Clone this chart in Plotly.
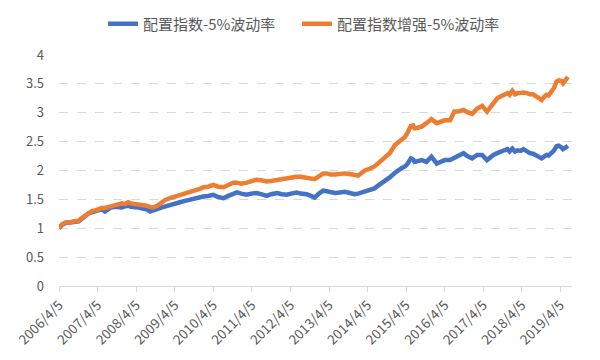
import plotly.graph_objects as go

dates = ["2006-04-05","2006-05-05","2006-06-05","2006-07-20","2006-09-01","2006-10-07","2006-11-10","2006-12-10",
"2007-01-10","2007-02-15","2007-03-15","2007-04-10","2007-05-15","2007-06-15","2007-07-15","2007-08-10","2007-09-20",
"2007-10-15","2007-11-20","2007-12-20","2008-01-20","2008-02-15","2008-03-25","2008-04-25","2008-06-01","2008-07-10",
"2008-08-15","2008-09-15","2008-10-20","2008-12-05","2009-01-05","2009-02-20","2009-04-10","2009-05-25","2009-07-01",
"2009-08-10","2009-09-15","2009-10-20","2009-11-30","2010-01-01","2010-02-15","2010-04-05","2010-05-20","2010-07-10",
"2010-08-25","2010-10-10","2010-11-15","2010-12-25","2011-02-15","2011-03-30","2011-05-20","2011-07-01","2011-08-25",
"2011-10-05","2011-11-30","2012-01-15","2012-03-01","2012-04-10","2012-06-01","2012-07-10","2012-09-05","2012-10-15",
"2012-11-20","2012-12-30","2013-02-10","2013-03-15","2013-04-20","2013-06-01","2013-07-15","2013-09-01","2013-10-20",
"2013-12-05","2014-01-05","2014-02-10","2014-03-10","2014-04-25","2014-06-10","2014-07-30","2014-09-15","2014-11-01",
"2014-12-20","2015-01-20","2015-02-20","2015-03-25","2015-04-20","2015-05-20","2015-06-10","2015-06-25","2015-07-25",
"2015-08-30","2015-10-15","2015-12-01","2016-01-20","2016-03-01","2016-04-05","2016-05-25","2016-07-05","2016-08-10",
"2016-09-30","2016-11-05","2016-12-20","2017-02-05","2017-03-25","2017-05-10","2017-06-10","2017-07-10","2017-08-15",
"2017-09-15","2017-10-20","2017-11-20","2017-12-10","2018-01-05","2018-01-30","2018-02-25","2018-03-25","2018-04-20",
"2018-05-25","2018-06-20","2018-07-20","2018-08-20","2018-09-10","2018-10-10","2018-11-01","2018-11-25","2018-12-15",
"2019-01-10","2019-02-01","2019-02-28","2019-03-20","2019-04-15","2019-04-30","2019-05-18","2019-06-15"]

index_5vol = [1.00,1.06,1.09,1.10,1.11,1.12,1.17,1.21,
1.26,1.28,1.30,1.32,1.33,1.29,1.34,1.36,1.37,
1.36,1.36,1.38,1.39,1.37,1.37,1.36,1.34,1.33,
1.29,1.30,1.33,1.36,1.38,1.41,1.43,1.45,1.47,
1.49,1.49,1.51,1.53,1.55,1.56,1.58,1.54,1.52,
1.56,1.60,1.62,1.60,1.58,1.60,1.61,1.59,1.56,
1.59,1.61,1.59,1.58,1.60,1.62,1.60,1.59,1.56,
1.53,1.60,1.65,1.64,1.62,1.61,1.62,1.63,1.61,
1.59,1.60,1.62,1.63,1.66,1.69,1.76,1.81,1.88,
1.96,2.01,2.04,2.07,2.12,2.21,2.19,2.15,2.17,
2.18,2.15,2.24,2.12,2.15,2.18,2.18,2.22,2.26,
2.30,2.25,2.21,2.27,2.27,2.18,2.23,2.27,2.30,
2.33,2.35,2.37,2.33,2.38,2.33,2.35,2.34,2.37,
2.33,2.30,2.29,2.26,2.24,2.21,2.24,2.27,2.26,
2.30,2.34,2.42,2.43,2.40,2.37,2.39,2.43]

index_enh_5vol = [1.00,1.07,1.10,1.10,1.12,1.13,1.18,1.22,
1.27,1.30,1.31,1.33,1.35,1.35,1.37,1.38,1.40,
1.41,1.43,1.42,1.45,1.43,1.42,1.41,1.41,1.39,
1.37,1.36,1.39,1.46,1.49,1.52,1.55,1.58,1.61,
1.63,1.64,1.66,1.68,1.71,1.72,1.75,1.72,1.71,
1.75,1.79,1.79,1.77,1.79,1.81,1.84,1.83,1.81,
1.82,1.84,1.85,1.86,1.87,1.89,1.89,1.88,1.86,
1.85,1.90,1.95,1.95,1.93,1.93,1.94,1.95,1.94,
1.93,1.91,1.96,2.00,2.03,2.07,2.15,2.22,2.30,
2.44,2.48,2.53,2.58,2.66,2.77,2.78,2.73,2.74,
2.76,2.82,2.89,2.82,2.84,2.87,2.87,3.02,3.02,
3.05,3.01,2.98,3.07,3.12,3.02,3.10,3.19,3.25,
3.28,3.31,3.34,3.31,3.38,3.32,3.34,3.34,3.35,
3.34,3.32,3.32,3.28,3.26,3.22,3.27,3.31,3.30,
3.36,3.42,3.54,3.56,3.55,3.51,3.55,3.62]

tick_dates = ["2006-04-05","2007-04-05","2008-04-05","2009-04-05","2010-04-05","2011-04-05","2012-04-05",
              "2013-04-05","2014-04-05","2015-04-05","2016-04-05","2017-04-05","2018-04-05","2019-04-05"]
tick_labels = ["2006/4/5","2007/4/5","2008/4/5","2009/4/5","2010/4/5","2011/4/5","2012/4/5",
               "2013/4/5","2014/4/5","2015/4/5","2016/4/5","2017/4/5","2018/4/5","2019/4/5"]
y_ticks = [0, 0.5, 1, 1.5, 2, 2.5, 3, 3.5, 4]
y_labels = ["0", "0.5", "1", "1.5", "2", "2.5", "3", "3.5", "4"]

series_names = ["配置指数-5%波动率", "配置指数增强-5%波动率"]

fig = go.Figure()
fig.add_trace(go.Scatter(x=dates, y=index_5vol, mode="lines", name=series_names[0],
                         line=dict(color="#4472C4", width=4.5), legend="legend"))
fig.add_trace(go.Scatter(x=dates, y=index_enh_5vol, mode="lines", name=series_names[1],
                         line=dict(color="#ED7D31", width=4.5), legend="legend2"))

# The page body adds an 8px offset, so the figure is sized to fit within the window.
W, H = 592, 352
font_family = "Noto Sans CJK SC, Noto Sans, sans-serif"
legend_common = dict(orientation="h", xanchor="left", xref="container",
                     y=1 - 16/H, yanchor="middle", yref="container",
                     font=dict(size=15, color="#595959"), itemwidth=30,
                     bgcolor="rgba(0,0,0,0)")
fig.update_layout(
    width=W, height=H,
    margin=dict(l=51, r=28, t=47, b=74, autoexpand=False),
    plot_bgcolor="white", paper_bgcolor="white",
    font=dict(family=font_family, size=13, color="#595959"),
    showlegend=True,
    legend=dict(x=95/W, **legend_common),
    legend2=dict(x=289/W, **legend_common),
)
fig.update_xaxes(
    type="date", range=["2006-04-05", "2019-07-24"], automargin=False,
    tickmode="array", tickvals=tick_dates, ticktext=tick_labels, tickangle=-45,
    showgrid=False, showline=True, linecolor="#D9D9D9", linewidth=1,
    ticks="outside", ticklen=5, tickcolor="#D9D9D9",
    tickfont=dict(size=13.5, color="#595959"),
)
fig.update_yaxes(
    range=[0, 4], tickmode="array", tickvals=y_ticks, ticktext=y_labels, automargin=False,
    showgrid=True, gridcolor="#D9D9D9", griddash="dash", gridwidth=1,
    zeroline=False, showline=False, ticks="", ticklabelstandoff=14,
    tickfont=dict(size=13, color="#595959"),
)
fig.write_html("out.html")
